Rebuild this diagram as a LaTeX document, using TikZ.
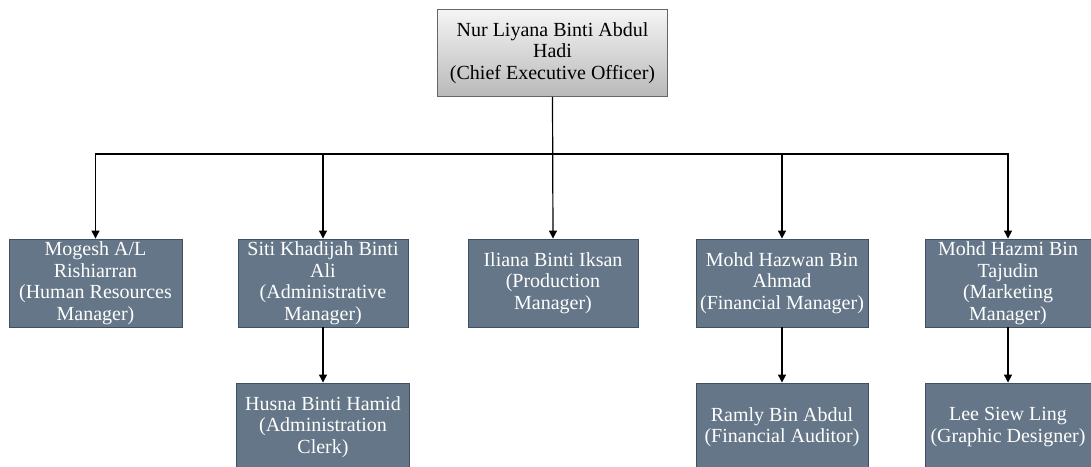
\documentclass[tikz,border=0pt]{standalone}
\usepackage{fontspec}
\setmainfont{Liberation Serif}
\usetikzlibrary{arrows.meta}
\definecolor{slate}{HTML}{647687}
\definecolor{slateline}{HTML}{3F5063}
\definecolor{topline}{HTML}{666666}
\tikzset{
  box/.style={draw=slateline, line width=0.9pt, fill=slate, text=white, align=center,
    inner sep=0pt, font=\fontsize{20}{21.5}\selectfont},
  topbox/.style={draw=topline, line width=0.9pt, top color=gray!8, bottom color=gray!55,
    text=black, align=center, inner sep=0pt, font=\fontsize{20}{21.5}\selectfont,
    minimum width=230pt, minimum height=87pt},
  arr/.style={draw=black, line width=1.2pt, -{Triangle[length=8pt,width=8pt]}},
  ln/.style={draw=black, line width=1.2pt}
}
\begin{document}
\begin{tikzpicture}[x=1pt,y=-1pt]
\clip (0,0) rectangle (1091,466);
\useasboundingbox (0,0) rectangle (1091,466);
\node[topbox] (top) at (552.5,53) {Nur Liyana Binti Abdul\\Hadi\\(Chief Executive Officer)};
\node[box, minimum width=173pt, minimum height=88pt] (A) at (95.5,283) {Mogesh A/L\\Rishiarran\\(Human Resources\\Manager)};
\node[box, minimum width=170pt, minimum height=88pt] (B) at (323,283) {Siti Khadijah Binti\\Ali\\(Administrative\\Manager)};
\node[box, minimum width=170pt, minimum height=88pt] (C) at (553,283) {Iliana Binti Iksan\\(Production\\Manager)};
\node[box, minimum width=172pt, minimum height=88pt] (D) at (782,283) {Mohd Hazwan Bin\\Ahmad\\(Financial Manager)};
\node[box, minimum width=166pt, minimum height=88pt] (E) at (1008,283) {Mohd Hazmi Bin\\Tajudin\\(Marketing\\Manager)};
\node[box, minimum width=173pt, minimum height=88pt] (F) at (323,427) {Husna Binti Hamid\\(Administration\\Clerk)};
\node[box, minimum width=172pt, minimum height=88pt] (G) at (782,427) {Ramly Bin Abdul\\(Financial Auditor)};
\node[box, minimum width=166pt, minimum height=88pt] (H) at (1008,427) {Lee Siew Ling\\(Graphic Designer)};
\coordinate (bus) at (553,154);
\draw[ln] (top.south) -- (top.south |- bus);
\draw[arr] (top.south |- bus) -| (A.north);
\draw[arr] (top.south |- bus) -| (B.north);
\draw[arr] (top.south) -- (C.north);
\draw[arr] (top.south |- bus) -| (D.north);
\draw[arr] (top.south |- bus) -| (E.north);
\draw[arr] (B.south) -- (F.north);
\draw[arr] (D.south) -- (G.north);
\draw[arr] (E.south) -- (H.north);
\end{tikzpicture}
\end{document}
